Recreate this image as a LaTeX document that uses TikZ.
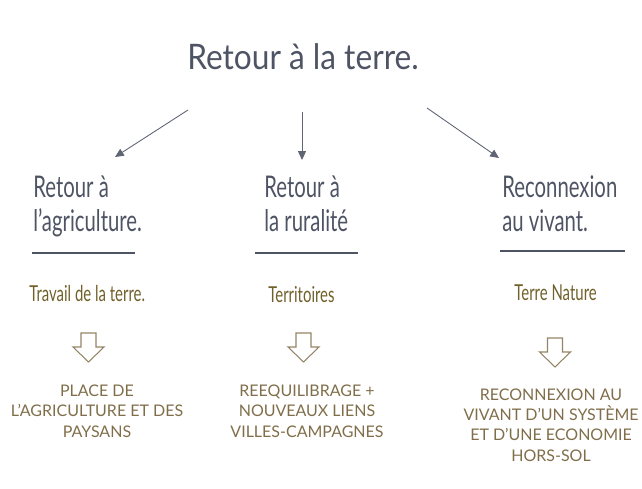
\documentclass[tikz,border=0pt]{standalone}
\usepackage{fontspec}
\setmainfont{Lato}
\newfontfamily\narrowfont{Lato}[FakeStretch=0.68]
\newfontfamily\titlefont{Lato}[FakeStretch=0.9]
\usetikzlibrary{arrows.meta}

\begin{document}
\begin{tikzpicture}[x=0.2mm,y=-0.2mm,
  heading/.style={font=\narrowfont\fontsize{17}{19.8}\selectfont, text=slate, anchor=base west, align=left, inner sep=0pt},
  theme/.style={font=\narrowfont\fontsize{12.5}{14}\selectfont, text=olivetext, anchor=base west, inner sep=0pt},
  outcome/.style={font=\fontsize{9.1}{11.5}\selectfont, text=umber, align=center, anchor=base, inner sep=0pt},
  link/.style={draw=slate!90, line width=0.5pt, -{Triangle[length=5pt,width=4.5pt]}},
  rule/.style={draw=slate, line width=0.6pt},
  hollowdown/.pic={\draw[draw=umber!85, line width=0.6pt, line join=miter]
    (-7.5,0) -- (-7.5,14) -- (-15.5,14) -- (0,29) -- (15.5,14) -- (7.5,14) -- (7.5,0) -- cycle;}]
\definecolor{slate}{RGB}{78,84,100}
\definecolor{olivetext}{RGB}{112,96,42}
\definecolor{umber}{RGB}{128,110,74}
\useasboundingbox (0,0) rectangle (642,489);

% title
\node[font=\titlefont\fontsize{20}{24}\selectfont, text=slate, anchor=base, inner sep=0pt] (title) at (303,70) {Retour à la terre.};

% three branches
\coordinate (fromL) at (188,110);
\coordinate (toL) at (115,157);
\coordinate (fromM) at (302,112);
\coordinate (toM) at (302,160);
\coordinate (fromR) at (427,108);
\coordinate (toR) at (499,158);
\draw[link] (fromL) -- (toL);
\draw[link] (fromM) -- (toM);
\draw[link] (fromR) -- (toR);

% base anchor of a multi-line node sits on its last line
\node[heading] (agri) at (33,232) {Retour à\\l’agriculture.};
\node[heading] (rural) at (264,232) {Retour à\\la ruralité};
\node[heading] (vivant) at (502,232) {Reconnexion\\au vivant.};

\draw[rule] (32,253) -- (135,253);
\draw[rule] (255,253) -- (358,253);
\draw[rule] (500,251) -- (625,251);

\node[theme] (travail) at (29,302) {Travail de la terre.};
\node[theme] (territ) at (268,303) {Territoires};
\node[theme] (nature) at (514,301) {Terre Nature};

\pic (downL) at (88.5,333) {hollowdown};
\pic (downM) at (303.5,333) {hollowdown};
\pic (downR) at (555,338) {hollowdown};

\node[outcome] (paysans) at (97,437) {PLACE DE\\L’AGRICULTURE ET DES\\PAYSANS};
\node[outcome] (liens) at (307,437) {REEQUILIBRAGE +\\NOUVEAUX LIENS\\VILLES-CAMPAGNES};
\node[outcome] (horssol) at (551,461) {RECONNEXION AU\\VIVANT D’UN SYSTÈME\\ET D’UNE ECONOMIE\\HORS-SOL};
\end{tikzpicture}
\end{document}
